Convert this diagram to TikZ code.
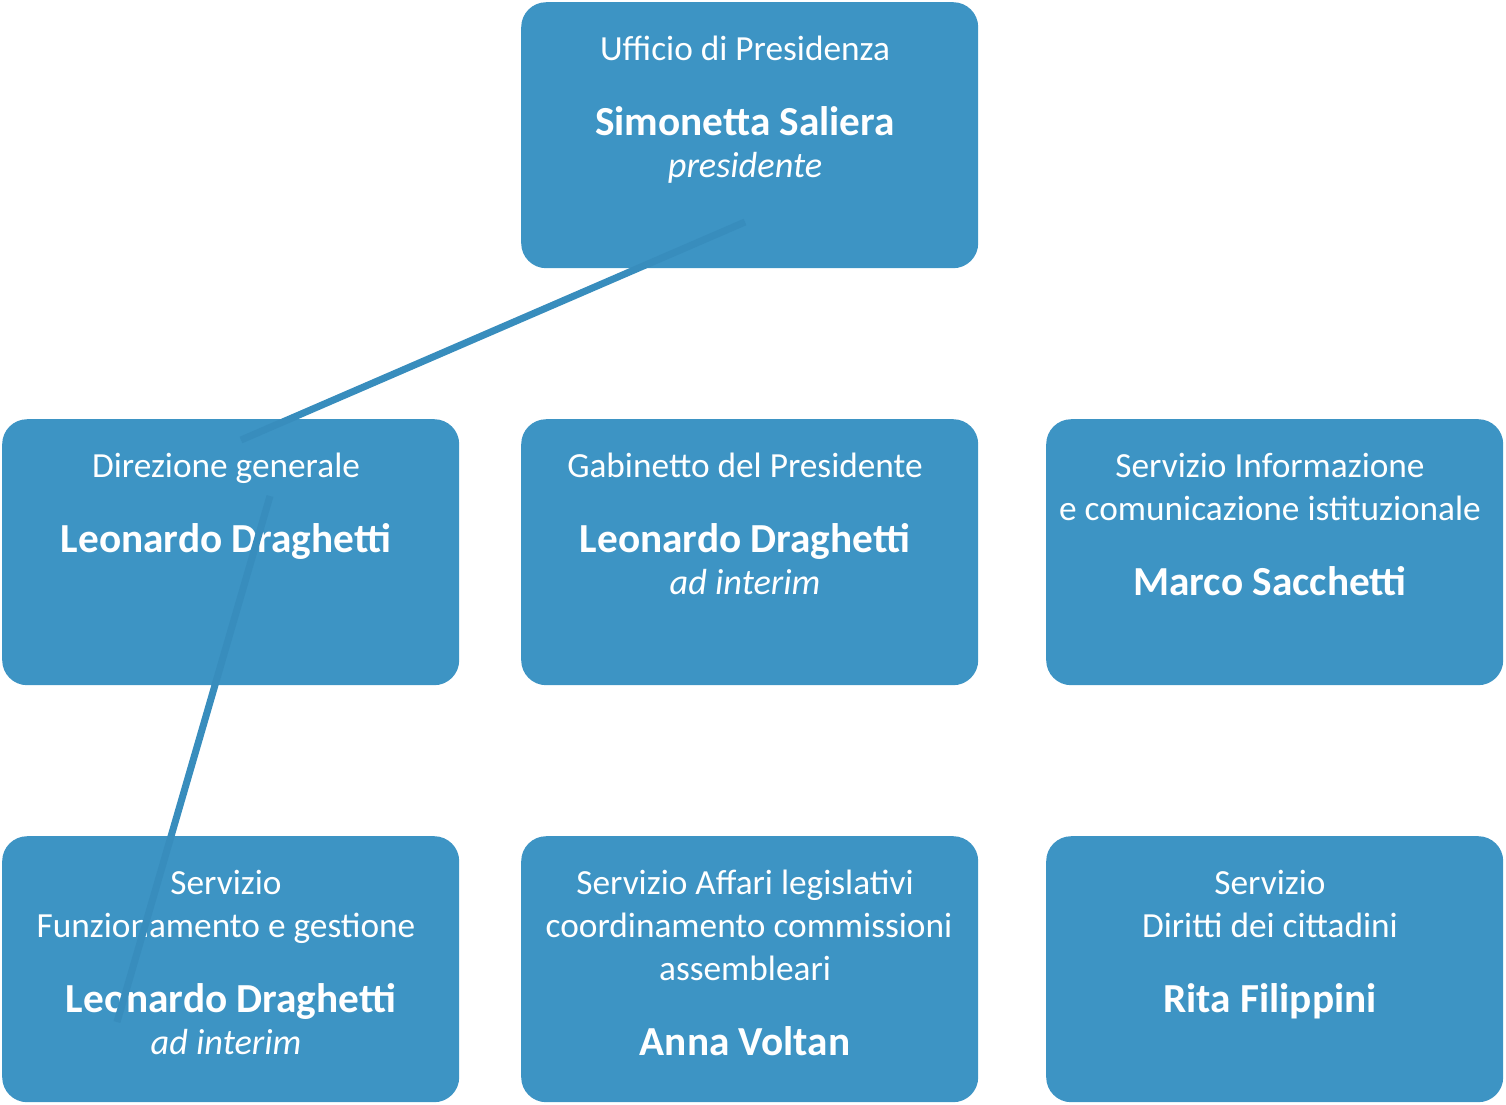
\documentclass[tikz,border=0pt]{standalone}
\usepackage{fontspec}
\setmainfont{Carlito}
\definecolor{boxblue}{RGB}{61,148,196}
\definecolor{lineblue}{RGB}{56,141,189}
\tikzset{
  box/.style={fill=boxblue, draw=none, rounded corners=25pt, minimum width=457pt, minimum height=266pt, anchor=north west, inner sep=0pt},
  lbl/.style={anchor=base, inner sep=0pt, text=white, font=\fontsize{35.3}{42}\selectfont},
  nm/.style={anchor=base, inner sep=0pt, text=white, font=\fontsize{41.3}{48}\selectfont\bfseries},
  itl/.style={anchor=base, inner sep=0pt, text=white, font=\fontsize{36.3}{43}\selectfont\itshape},
  conn/.style={draw=lineblue, line width=7pt}
}
\begin{document}
\begin{tikzpicture}[x=1pt,y=-1pt]
\useasboundingbox (0,0) rectangle (1506,1104);
% boxes
\node[box] (pres) at (521,2) {};
\node[box] (dir) at (2,419) {};
\node[box] (gab) at (521,419) {};
\node[box] (info) at (1046,419) {};
\node[box] (funz) at (2,836) {};
\node[box] (aff) at (521,836) {};
\node[box] (dirc) at (1046,836) {};
% texts
\node[lbl] (t1a) at (745,60) {Ufficio di Presidenza};
\node[nm]  (t1b) at (745,135) {Simonetta Saliera};
\node[itl] (t1c) at (745,177) {presidente};

\node[lbl] (t2a) at (226,477) {Direzione generale};
\node[nm]  (t2b) at (226,552) {Leonardo Draghetti};

\node[lbl] (t3a) at (745,477) {Gabinetto del Presidente};
\node[nm]  (t3b) at (745,552) {Leonardo Draghetti};
\node[itl] (t3c) at (745,594) {ad interim};

\node[lbl] (t4a) at (1270,477) {Servizio Informazione};
\node[lbl] (t4b) at (1270,520) {e comunicazione istituzionale};
\node[nm]  (t4c) at (1270,595) {Marco Sacchetti};

\node[lbl] (t5a) at (226,894) {Servizio};
\node[lbl] (t5b) at (226,937) {Funzionamento e gestione};
\node[nm]  (t5c) at (231,1012) {Leonardo Draghetti};
\node[itl] (t5d) at (226,1054) {ad interim};

\node[lbl] (t6a) at (745,894) {Servizio Affari legislativi};
\node[lbl] (t6b) at (749,937) {coordinamento commissioni};
\node[lbl] (t6c) at (745,980) {assembleari};
\node[nm]  (t6d) at (745,1055) {Anna Voltan};

\node[lbl] (t7a) at (1270,894) {Servizio};
\node[lbl] (t7b) at (1270,937) {Diritti dei cittadini};
\node[nm]  (t7c) at (1270,1012) {Rita Filippini};
% connectors
\coordinate (c1) at (745,222);
\coordinate (c2) at (241,440);
\coordinate (c3) at (270,496);
\coordinate (c4) at (117,1022);
\draw[conn] (c1) -- (c2);
\draw[conn] (c3) -- (c4);
\end{tikzpicture}
\end{document}
